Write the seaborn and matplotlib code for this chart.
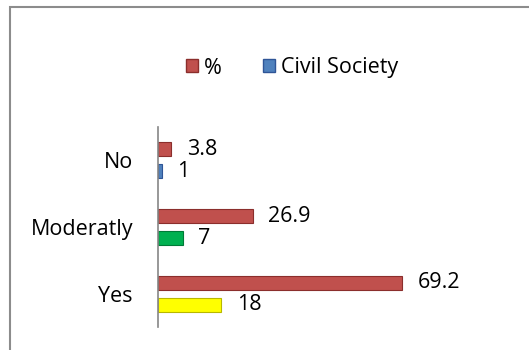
import pandas as pd
import matplotlib
matplotlib.use("Agg")
import matplotlib.pyplot as plt
import seaborn as sns
from matplotlib.patches import Rectangle, Patch

# Dados do gráfico
categorias = ['No', 'Moderatly', 'Yes']
percentual = [3.8, 26.9, 69.2]
sociedade_civil = [1, 7, 18]
series = ['%', 'Civil Society']

cor_pct = '#C0504D'
cores_civil = ['#4F81BD', '#00B050', '#FFFF00']
bordas_civil = ['#2F5597', '#007A37', '#B8B800']

df = pd.DataFrame({
    'Categoria': categorias * 2,
    'Serie': [series[0]] * 3 + [series[1]] * 3,
    'Valor': percentual + sociedade_civil,
})

sns.set_style('white')
plt.rcParams['font.family'] = ['Open Sans', 'DejaVu Sans']
plt.rcParams['text.color'] = 'black'
plt.rcParams['ytick.color'] = 'black'

fig = plt.figure(figsize=(5.29, 3.5), dpi=100)
ax = fig.add_axes([158 / 529, 1 - 327 / 350, (500 - 158) / 529, 200 / 350])

sns.barplot(data=df, x='Valor', y='Categoria', hue='Serie', order=categorias,
            hue_order=series, orient='h', width=0.66, gap=0.36, saturation=1,
            palette=[cor_pct, cores_civil[0]], legend=False, ax=ax)

# Cores individuais para a série "Civil Society"
for cont, serie in zip(ax.containers, series):
    for i, barra in enumerate(cont):
        if serie == '%':
            barra.set_edgecolor('#8B2E2C')
        else:
            barra.set_facecolor(cores_civil[i])
            barra.set_edgecolor(bordas_civil[i])
        barra.set_linewidth(0.8)
    ax.bar_label(cont, fmt='%g', padding=11, fontsize=15.5, color='black')

ax.set_xlim(0, 97)
ax.set_ylim(2.5, -0.5)
ax.set_xlabel('')
ax.set_ylabel('')
ax.set_xticks([])
ax.tick_params(axis='y', length=0, pad=18, labelsize=15.5, labelcolor='black')
for lado in ['top', 'right', 'bottom']:
    ax.spines[lado].set_visible(False)
ax.spines['left'].set_color('#868686')
ax.spines['left'].set_linewidth(1.2)

# Legenda
alcas = [Patch(facecolor=cor_pct, edgecolor='#8B2E2C'),
         Patch(facecolor=cores_civil[0], edgecolor='#2F5597')]
fig.legend(alcas, series, loc='center', bbox_to_anchor=(292 / 529, 1 - 68 / 350),
           ncol=2, frameon=False, fontsize=15.5, handlelength=0.55, handleheight=0.55,
           handletextpad=0.3, columnspacing=1.9)

# Moldura do gráfico
fig.patches.append(Rectangle((10 / 529, -0.1), 1.2, 1 - 7 / 350 + 0.1,
                             transform=fig.transFigure, fill=False,
                             edgecolor='#8C8C8C', linewidth=1.5))

fig.savefig('out.png', dpi=100)
plt.close(fig)
